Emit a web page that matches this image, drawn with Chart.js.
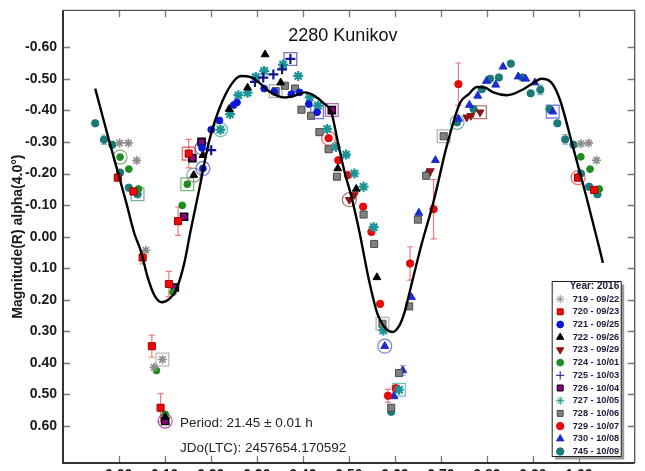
<!DOCTYPE html>
<html>
<head>
<meta charset="utf-8">
<script src="https://cdn.jsdelivr.net/npm/chart.js@4.4.1/dist/chart.umd.min.js"></script>
<style>
html, body { margin: 0; padding: 0; background: #fff; overflow: hidden; }
canvas { display: block; }
</style>
</head>
<body>
<canvas id="lc" width="645" height="490"></canvas>
<script>
// phase, magnitude, error (0 = none)
const s719 = [[0.002,-0.297,0],[0.021,-0.297,0],[0.039,-0.241,0],[0.059,0.043,0],[0.095,0.389,0],[0.077,0.414,0],[1.004,-0.294,0],[1.021,-0.297,0],[1.038,-0.242,0]];
const s720 = [[-0.002,-0.187,0],[0.032,-0.143,0],[0.052,0.066,0.02],[0.109,0.150,0.04],[0.072,0.347,0.035],[0.091,0.542,0.045],[0.152,-0.263,0.045],[0.129,-0.049,0.045],[0.998,-0.187,0],[1.033,-0.148,0]];
const s721 = [[0.181,-0.281,0],[0.183,-0.216,0],[0.201,-0.339,0],[0.219,-0.368,0],[0.250,-0.417,0],[0.257,-0.425,0],[0.316,-0.469,0],[0.338,-0.459,0],[0.375,-0.451,0],[0.393,-0.457,0],[0.413,-0.420,0],[0.431,-0.394,0]];
const s722 = [[0.183,-0.258,0],[0.163,-0.195,0],[0.240,-0.404,0],[0.280,-0.472,0],[0.318,-0.577,0],[0.352,-0.488,0],[0.476,-0.216,0],[0.516,-0.151,0],[0.561,0.129,0],[0.101,0.572,0]];
const s723 = [[0.501,-0.117,0],[0.512,-0.132,0],[0.677,-0.208,0],[0.756,-0.378,0],[0.765,-0.383,0],[0.785,-0.394,0]];
const s724 = [[0.003,-0.252,0],[0.022,-0.214,0],[0.043,-0.151,0],[0.149,-0.166,0],[0.138,-0.099,0],[0.118,0.176,0],[0.082,0.424,0],[0.101,0.563,0],[1.004,-0.253,0],[1.024,-0.214,0],[1.044,-0.151,0]];
const s725 = [[0.201,-0.274,0],[0.296,-0.490,0],[0.314,-0.504,0],[0.336,-0.514,0],[0.355,-0.530,0],[0.373,-0.563,0]];
const s726 = [[0.160,-0.249,0],[0.180,-0.300,0],[0.142,-0.063,0],[0.122,0.161,0],[0.101,0.584,0],[0.463,-0.401,0]];
const s727 = [[0.221,-0.339,0],[0.242,-0.388,0],[0.260,-0.448,0],[0.280,-0.456,0],[0.298,-0.506,0],[0.316,-0.525,0],[0.357,-0.545,0],[0.390,-0.509,0],[0.415,-0.441,0],[0.433,-0.415,0],[0.453,-0.341,0],[0.472,-0.284,0],[0.494,-0.260,0],[0.512,-0.200,0],[0.532,-0.158,0],[0.554,-0.030,0],[0.575,0.297,0],[0.609,0.485,0]];
const s728 = [[0.341,-0.461,0],[0.361,-0.478,0],[0.383,-0.469,0],[0.397,-0.402,0],[0.418,-0.383,0],[0.436,-0.331,0],[0.456,-0.277,0],[0.474,-0.190,0],[0.532,-0.070,0],[0.555,0.023,0],[0.573,0.276,0],[0.631,0.221,0],[0.609,0.432,0],[0.592,0.542,0],[0.650,-0.054,0],[0.668,-0.193,0],[0.706,-0.318,0]];
const s729 = [[0.456,-0.312,0],[0.477,-0.242,0],[0.498,-0.195,0],[0.531,-0.095,0],[0.549,-0.015,0],[0.568,0.213,0],[0.602,0.480,0],[0.585,0.504,0.02],[0.633,0.085,0.053],[0.684,-0.087,0.094],[0.738,-0.483,0.067]];
const s730 = [[0.578,0.347,0],[0.636,0.192,0],[0.617,0.424,0.015],[0.598,0.506,0],[0.652,-0.075,0],[0.670,-0.200,0],[0.688,-0.242,0],[0.738,-0.373,0],[0.762,-0.417,0],[0.780,-0.446,0],[0.799,-0.493,0],[0.819,-0.481,0],[0.835,-0.538,0],[0.868,-0.507,0],[0.884,-0.500,0],[0.904,-0.488,0],[0.943,-0.396,0]];
const s745 = [[-0.051,-0.359,0],[-0.032,-0.307,0.015],[-0.014,-0.291,0],[0.003,-0.203,0],[0.022,-0.155,0],[0.041,-0.134,0],[0.735,-0.362,0],[0.771,-0.404,0],[0.789,-0.467,0],[0.807,-0.500,0],[0.826,-0.504,0],[0.852,-0.548,0],[0.877,-0.504,0],[0.895,-0.454,0],[0.916,-0.465,0.015],[0.936,-0.404,0],[0.953,-0.359,0],[0.970,-0.308,0.015],[0.988,-0.291,0],[1.004,-0.200,0],[1.022,-0.158,0],[1.040,-0.134,0],[0.592,0.555,0]];

// fourier fit
const fitPhase = [-0.051,-0.020,0.016,0.034,0.048,0.063,0.078,0.094,0.110,0.124,0.142,0.156,0.174,0.196,0.224,0.253,0.267,0.285,0.305,0.325,0.345,0.361,0.385,0.405,0.425,0.445,0.462,0.476,0.490,0.505,0.523,0.544,0.562,0.580,0.595,0.610,0.620,0.638,0.656,0.684,0.713,0.742,0.760,0.778,0.796,0.814,0.843,0.879,0.900,0.918,0.940,0.958,0.986,1.015,1.044,1.052];
const fitMag = [-0.469,-0.300,-0.110,-0.010,0.045,0.129,0.187,0.208,0.197,0.171,0.087,-0.017,-0.143,-0.300,-0.425,-0.498,-0.509,-0.506,-0.488,-0.462,-0.446,-0.441,-0.448,-0.457,-0.446,-0.423,-0.394,-0.300,-0.209,-0.130,-0.015,0.140,0.244,0.291,0.302,0.281,0.244,0.140,0.035,-0.111,-0.289,-0.425,-0.451,-0.474,-0.472,-0.457,-0.448,-0.467,-0.486,-0.500,-0.488,-0.436,-0.289,-0.132,0.035,0.083];

const xTicks = [0.0,0.1,0.2,0.3,0.4,0.5,0.6,0.7,0.8,0.9,1.0];
const yTicks = [-0.6,-0.5,-0.4,-0.3,-0.2,-0.1,0.0,0.1,0.2,0.3,0.4,0.5,0.6];

const titleText = '2280 Kunikov';
const yTitle = 'Magnitude(R) alpha(4.0\u00b0)';
const notes = ['Period: 21.45 \u00b1 0.01 h', 'JDo(LTC): 2457654.170592'];
const legendTitle = 'Year: 2016';

const sessions = [
    { label: '719 - 09/22', pts: s719, shape: 'star', fill: '#8c8c8c', line: '#8c8c8c', r: 4.5, bw: 1.6, box: [4] },
    { label: '720 - 09/23', pts: s720, shape: 'rect', fill: '#ee0a0a', line: '#a00000', r: 5, bw: 1, box: [6], ring: [8] },
    { label: '721 - 09/25', pts: s721, shape: 'circle', fill: '#0c18d8', line: '#0c18d8', r: 3.4, bw: 1, ring: [0, 1], box: [11] },
    { label: '722 - 09/26', pts: s722, shape: 'triangle', fill: '#000000', line: '#000000', r: 4.5, bw: 1, ring: [1] },
    { label: '723 - 09/29', pts: s723, shape: 'triangle', rot: 180, fill: '#8c1414', line: '#8c1414', r: 4.5, bw: 1, ring: [0], box: [5] },
    { label: '724 - 10/01', pts: s724, shape: 'circle', fill: '#1e8c1e', line: '#1e8c1e', r: 3.4, bw: 1, ring: [0], box: [3] },
    { label: '725 - 10/03', pts: s725, shape: 'cross', fill: '#14148c', line: '#14148c', r: 5, bw: 2.2, box: [5] },
    { label: '726 - 10/04', pts: s726, shape: 'rect', fill: '#8c008c', line: '#000000', r: 5, bw: 1.6, ring: [4], box: [5] },
    { label: '727 - 10/05', pts: s727, shape: 'star', fill: '#1a9494', line: '#1a9494', r: 5, bw: 2.2, ring: [0], box: [17] },
    { label: '728 - 10/06', pts: s728, shape: 'rect', fill: '#808080', line: '#4a4a4a', r: 5, bw: 1, box: [0, 10, 16] },
    { label: '729 - 10/07', pts: s729, shape: 'circle', fill: '#e60a0a', line: '#e60a0a', r: 3.7, bw: 1, ring: [0] },
    { label: '730 - 10/08', pts: s730, shape: 'triangle', fill: '#1a2ed0', line: '#1a2ed0', r: 4.6, bw: 1, ring: [0], box: [16] },
    { label: '745 - 10/09', pts: s745, shape: 'circle', fill: '#1a7a78', line: '#1a7a78', r: 3.7, bw: 1, box: [5], ring: [6] }
];

Chart.defaults.font.family = '"Liberation Sans", Arial, sans-serif';

function alpha(hex, a) {
    const n = parseInt(hex.slice(1), 16);
    return 'rgba(' + (n >> 16) + ',' + ((n >> 8) & 255) + ',' + (n & 255) + ',' + a + ')';
}

const datasets = [{
    type: 'line',
    label: 'fit',
    data: fitPhase.map((p, i) => ({ x: p, y: fitMag[i] })),
    borderColor: '#000',
    borderWidth: 2.4,
    pointRadius: 0,
    cubicInterpolationMode: 'monotone',
    fill: false,
    order: 0
}];

sessions.forEach((s, k) => {
    datasets.push({
        type: 'scatter',
        label: s.label,
        data: s.pts.map(p => ({ x: p[0], y: p[1] })),
        pointStyle: s.shape,
        rotation: s.rot || 0,
        pointRadius: s.r,
        backgroundColor: s.fill,
        borderColor: s.line,
        borderWidth: s.bw,
        order: 1 + k
    });
    const marks = [];
    (s.box || []).forEach(i => marks.push({ x: s.pts[i][0], y: s.pts[i][1], st: 'rect' }));
    (s.ring || []).forEach(i => marks.push({ x: s.pts[i][0], y: s.pts[i][1], st: 'circle' }));
    if (marks.length) {
        datasets.push({
            type: 'scatter',
            label: s.label + ' mark',
            data: marks,
            pointStyle: marks.map(m => m.st),
            pointRadius: marks.map(m => m.st === 'rect' ? 9 : 7),
            backgroundColor: 'rgba(0,0,0,0)',
            borderColor: alpha(s.fill === '#000000' ? '#555555' : s.fill, 0.6),
            borderWidth: 1.3,
            order: 50
        });
    }
});

const errorBars = {
    id: 'errorBars',
    beforeDatasetsDraw(chart) {
        const ctx = chart.ctx, xs = chart.scales.x, ys = chart.scales.y;
        ctx.save();
        ctx.lineWidth = 1.2;
        sessions.forEach(s => {
            ctx.strokeStyle = alpha(s.fill, 0.55);
            s.pts.forEach(p => {
                if (!p[2]) return;
                const px = xs.getPixelForValue(p[0]);
                const y1 = ys.getPixelForValue(p[1] - p[2]);
                const y2 = ys.getPixelForValue(p[1] + p[2]);
                ctx.beginPath();
                ctx.moveTo(px, y1); ctx.lineTo(px, y2);
                ctx.moveTo(px - 3, y1); ctx.lineTo(px + 3, y1);
                ctx.moveTo(px - 3, y2); ctx.lineTo(px + 3, y2);
                ctx.stroke();
            });
        });
        ctx.restore();
    }
};

const frame = {
    id: 'frame',
    afterDraw(chart) {
        const ctx = chart.ctx, ca = chart.chartArea;
        const xs = chart.scales.x, ys = chart.scales.y;
        ctx.save();
        // ticks pointing inward on all four sides
        ctx.strokeStyle = '#777';
        ctx.lineWidth = 1.3;
        ctx.beginPath();
        xTicks.forEach(v => {
            const px = Math.round(xs.getPixelForValue(v)) + 0.5;
            ctx.moveTo(px, ca.bottom); ctx.lineTo(px, ca.bottom - 7);
            ctx.moveTo(px, ca.top); ctx.lineTo(px, ca.top + 7);
        });
        yTicks.forEach(v => {
            const py = Math.round(ys.getPixelForValue(v)) + 0.5;
            ctx.moveTo(ca.left, py); ctx.lineTo(ca.left + 7, py);
            ctx.moveTo(ca.right, py); ctx.lineTo(ca.right - 7, py);
        });
        ctx.stroke();
        // box
        ctx.strokeStyle = '#555';
        ctx.lineWidth = 1.3;
        ctx.beginPath();
        ctx.moveTo(ca.left, ca.top); ctx.lineTo(ca.right, ca.top); ctx.lineTo(ca.right, ca.bottom);
        ctx.stroke();
        ctx.strokeStyle = '#333';
        ctx.lineWidth = 2;
        ctx.beginPath();
        ctx.moveTo(ca.left, ca.top); ctx.lineTo(ca.left, ca.bottom); ctx.lineTo(ca.right, ca.bottom);
        ctx.stroke();

        // title
        ctx.fillStyle = '#111';
        ctx.font = '18px "Liberation Sans", Arial, sans-serif';
        ctx.textAlign = 'center';
        ctx.textBaseline = 'middle';
        ctx.fillText(titleText, (ca.left + ca.right) / 2 - 6, ys.getPixelForValue(-0.636));

        // period notes
        ctx.font = '13.5px "Liberation Sans", Arial, sans-serif';
        ctx.textAlign = 'left';
        ctx.fillStyle = '#222';
        const nx = xs.getPixelForValue(0.133);
        ctx.fillText(notes[0], nx, ys.getPixelForValue(0.592));
        ctx.fillText(notes[1], nx, ys.getPixelForValue(0.671));

        // legend box
        const bw = 69, bh = 175;
        const bx = ca.right - 82.5, by = ca.bottom - 181.5;
        ctx.fillStyle = '#9a9a9a';
        ctx.fillRect(bx + 3, by + 3, bw, bh);
        ctx.fillStyle = '#fff';
        ctx.fillRect(bx, by, bw, bh);
        ctx.strokeStyle = '#222';
        ctx.lineWidth = 1;
        ctx.strokeRect(bx, by, bw, bh);
        ctx.fillStyle = '#1a1a3a';
        ctx.textAlign = 'right';
        ctx.font = 'bold 10px "Liberation Sans", Arial, sans-serif';
        ctx.fillText(legendTitle, bx + bw - 2, by + 5);
        ctx.font = 'bold 9.2px "Liberation Sans", Arial, sans-serif';
        sessions.forEach((s, i) => {
            const ly = by + 17.6 + i * 12.7;
            ctx.save();
            ctx.fillStyle = s.fill;
            ctx.strokeStyle = s.line;
            const opts = { pointStyle: s.shape, radius: Math.min(s.r, 4.2), rotation: s.rot || 0, borderWidth: Math.min(s.bw, 1.6) };
            if (Chart.helpers && Chart.helpers.drawPoint) {
                Chart.helpers.drawPoint(ctx, opts, bx + 8, ly);
            }
            ctx.restore();
            ctx.fillStyle = '#1a1a3a';
            ctx.fillText(s.label, bx + bw - 2, ly);
        });
        ctx.restore();
    }
};

function noPad(s) {
    s.paddingTop = 0;
    s.paddingBottom = 0;
    s.paddingLeft = 0;
    s.paddingRight = 0;
}

const chart = new Chart(document.getElementById('lc'), {
    data: { datasets: datasets },
    options: {
        responsive: false,
        animation: false,
        events: [],
        layout: { padding: { top: 7, right: 6, left: 0, bottom: 0 } },
        plugins: { legend: { display: false }, tooltip: { enabled: false } },
        scales: {
            x: {
                type: 'linear',
                min: -0.121,
                max: 1.121,
                grid: { display: false, drawTicks: false },
                border: { display: false },
                afterBuildTicks: s => { s.ticks = xTicks.map(v => ({ value: v })); },
                afterFit: s => { s.height = 27; noPad(s); },
                ticks: {
                    padding: 4,
                    color: '#1a1a1a',
                    font: { size: 14, weight: 'bold' },
                    callback: v => Number(v).toFixed(2)
                }
            },
            y: {
                type: 'linear',
                reverse: true,
                min: -0.717,
                max: 0.717,
                grid: { display: false, drawTicks: false },
                border: { display: false },
                afterBuildTicks: s => { s.ticks = yTicks.map(v => ({ value: v })); },
                afterFit: s => { s.width = 63; noPad(s); },
                title: {
                    display: true,
                    text: yTitle,
                    color: '#1a1a1a',
                    font: { size: 14, weight: 'bold' },
                    padding: { top: 10, bottom: 0 }
                },
                ticks: {
                    padding: 6,
                    color: '#1a1a1a',
                    font: { size: 14, weight: 'bold' },
                    callback: v => Number(v).toFixed(2)
                }
            }
        }
    },
    plugins: [errorBars, frame]
});
</script>
</body>
</html>
